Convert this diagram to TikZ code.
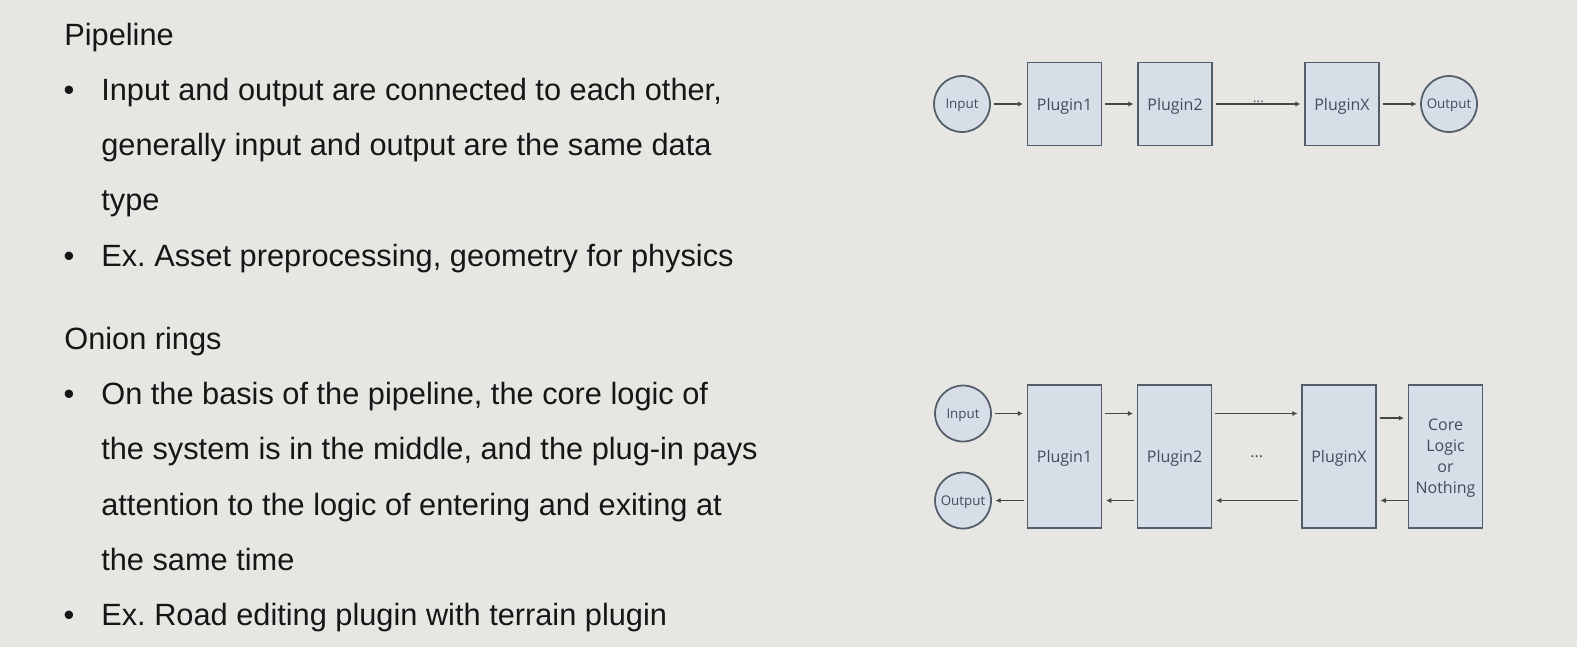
\documentclass[tikz,border=0pt]{standalone}
\usepackage{fontspec}
\usepackage{tikz}
\usepackage{xcolor}
\usetikzlibrary{arrows.meta,positioning,calc}
\setmainfont{Liberation Sans}
\newfontfamily\diagfont{Open Sans}
\definecolor{slide}{HTML}{E8E6E3}
\definecolor{ink}{HTML}{161616}
\definecolor{boxfill}{HTML}{D7DEE7}
\definecolor{boxline}{HTML}{535E6B}
\definecolor{boxtext}{HTML}{3F4D5C}
\definecolor{wire}{HTML}{464646}
\newcommand{\slidetext}{\fontsize{17.5}{20}\selectfont\color{ink}}
\newcommand{\plugtext}{\diagfont\fontsize{9.1}{11.95}\selectfont\color{boxtext}}
\newcommand{\porttext}{\diagfont\fontsize{7.6}{9}\selectfont\color{boxtext}}
\frenchspacing

\begin{document}
\begin{tikzpicture}[
  x=0.02cm, y=-0.02cm,
  head/.style={anchor=base west, inner sep=0pt, font=\slidetext},
  line/.style={anchor=base west, inner sep=0pt, font=\slidetext},
  dot/.style={anchor=base, inner sep=0pt, font=\slidetext},
  plug/.style={draw=boxline, fill=boxfill, line width=1.1pt, minimum width=1.48cm, minimum height=1.66cm, inner sep=0pt, text depth=0pt, align=center, font=\plugtext},
  tall/.style={plug, minimum height=2.86cm},
  port/.style={circle, draw=boxline, fill=boxfill, line width=1pt, minimum size=1.12cm, inner sep=0pt, text depth=0pt, font=\porttext},
  flow/.style={-{Latex[length=3pt,width=3pt]}, draw=wire, line width=0.7pt, shorten <=1.7pt, shorten >=2pt}
]
\useasboundingbox[fill=slide] (0,0) rectangle (1577,647);

\node[head] (pipehead) at (64,45) {Pipeline};
\foreach \txt [count=\i] in {{Input and output are connected to each other,}, {generally input and output are the same data}, {type}, {Ex. Asset preprocessing, geometry for physics}}
  \node[line] (pipeline\i) at (101,{45+55.3*\i}) {\txt};
\node[dot] (pipedot1) at (69,100.3) {•};
\node[dot] (pipedot2) at (69,266.2) {•};

\node[head] (onionhead) at (64,349.2) {Onion rings};
\foreach \txt [count=\i] in {{On the basis of the pipeline, the core logic of}, {the system is in the middle, and the plug-in pays}, {attention to the logic of entering and exiting at}, {the same time}, {Ex. Road editing plugin with terrain plugin}}
  \node[line] (onionline\i) at (101,{349.2+55.3*\i}) {\txt};
\node[dot] (oniondot1) at (69,404.5) {•};
\node[dot] (oniondot2) at (69,625.7) {•};

\node[port] (pin) at (962,104) {Input};
\node[plug] (pp1) at (1064.5,104) {Plugin1};
\node[plug] (pp2) at (1175,104) {Plugin2};
\node[plug] (ppx) at (1342,104) {PluginX};
\node[port] (pout) at (1449,104) {Output};
\draw[flow] (pin) -- (pp1);
\draw[flow] (pp1) -- (pp2);
\draw[flow] (pp2) -- node[above=-3pt, font=\porttext] (pipedots) {...} (ppx);
\draw[flow] (ppx) -- (pout);

\node[port] (oin) at (963,413.5) {Input};
\node[port] (oout) at (963,500.5) {Output};
\node[tall] (op1) at (1064.5,456.5) {Plugin1};
\node[tall] (op2) at (1174.5,456.5) {Plugin2};
\node[tall] (opx) at (1339,456.5) {PluginX};
\node[tall] (ocore) at (1445.5,456.5) {Core\\Logic\\or\\Nothing};
\node[font=\plugtext, text depth=0pt] (oniondots) at ($(op2)!0.5!(opx)$) {...};
\draw[flow] (oin.east) -- (oin.east -| op1.west);
\draw[flow] (op1.east |- oin.east) -- (op2.west |- oin.east);
\draw[flow] (op2.east |- oin.east) -- (opx.west |- oin.east);
\draw[flow] ([yshift=-2.6pt]opx.east |- oin.east) -- ([yshift=-2.6pt]ocore.west |- oin.east);
\draw[flow, shorten <=0pt] (ocore.west |- oout.east) -- (opx.east |- oout.east);
\draw[flow] (opx.west |- oout.east) -- (op2.east |- oout.east);
\draw[flow] (op2.west |- oout.east) -- (op1.east |- oout.east);
\draw[flow] (op1.west |- oout.east) -- (oout.east);
\end{tikzpicture}
\end{document}
